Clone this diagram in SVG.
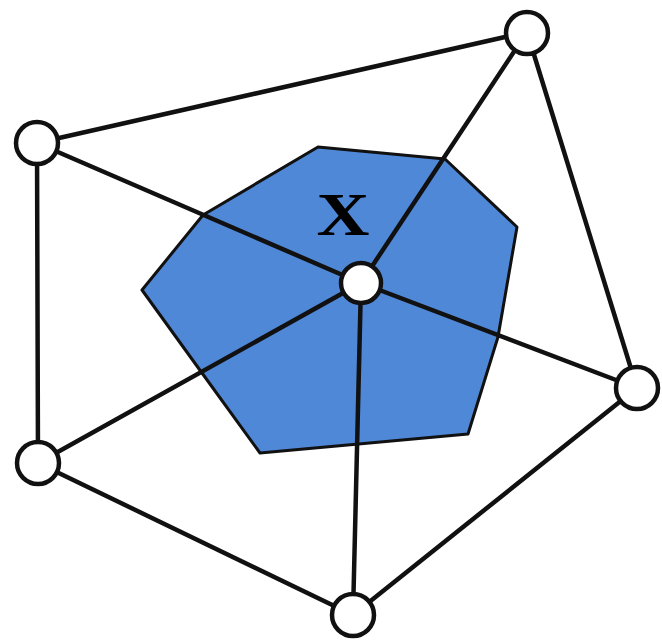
<svg xmlns="http://www.w3.org/2000/svg" width="662" height="640" viewBox="0 0 662 640">
<style>
.edge{stroke:#111;stroke-width:4.5;stroke-linecap:round;fill:none}
.node{fill:#fff;stroke:#111;stroke-width:4.5}
.cell{fill:#5088d8;stroke:#111;stroke-width:3;stroke-linejoin:round}
.lbl{font-family:"Liberation Serif","Times New Roman",serif;font-weight:bold;font-size:62px;fill:#000}
</style>
<rect width="662" height="640" fill="#fff"/>
<g id="cell">
<polygon class="cell" points="318,147 445,159 517,227 498,337 468,434 260,453 202,373 142,290 203,215"/>
</g>
<g id="connectors">
<line class="edge" x1="37" y1="143" x2="527" y2="32"/>
<line class="edge" x1="37" y1="143" x2="38" y2="463"/>
<line class="edge" x1="37" y1="143" x2="361" y2="283"/>
<line class="edge" x1="527" y1="32" x2="361" y2="283"/>
<line class="edge" x1="527" y1="32" x2="637" y2="388"/>
<line class="edge" x1="637" y1="388" x2="361" y2="283"/>
<line class="edge" x1="637" y1="388" x2="353" y2="615"/>
<line class="edge" x1="353" y1="615" x2="361" y2="283"/>
<line class="edge" x1="353" y1="615" x2="38" y2="463"/>
<line class="edge" x1="38" y1="463" x2="361" y2="283"/>
</g>
<g id="label-x"><text class="lbl" x="343" y="235" text-anchor="middle" textLength="53" lengthAdjust="spacingAndGlyphs">X</text></g>
<g id="n-center"><circle class="node" cx="361" cy="283" r="20"/></g>
<g id="n-topleft"><circle class="node" cx="37" cy="143" r="21"/></g>
<g id="n-topright"><circle class="node" cx="527" cy="33" r="21"/></g>
<g id="n-right"><circle class="node" cx="637" cy="388" r="21"/></g>
<g id="n-bottomleft"><circle class="node" cx="38" cy="463" r="21"/></g>
<g id="n-bottom"><circle class="node" cx="353" cy="615" r="21"/></g>
</svg>
